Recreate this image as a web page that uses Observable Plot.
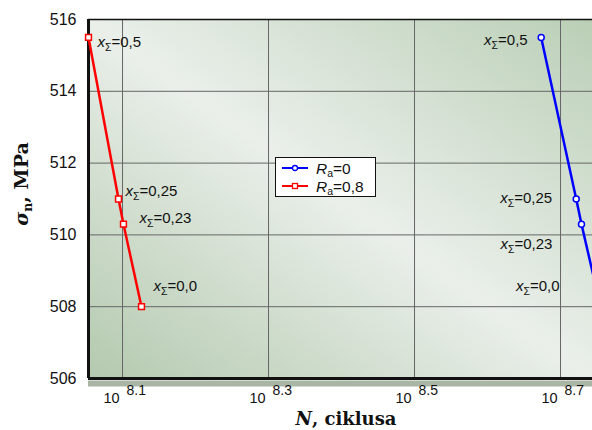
<!DOCTYPE html>
<html><head><meta charset="utf-8">
<script src="https://cdn.jsdelivr.net/npm/d3@7"></script>
<script src="https://cdn.jsdelivr.net/npm/@observablehq/plot@0.6"></script>
<style>body{margin:0;background:#fff}</style>
</head><body><div id="chart"></div>
<script>
// ---- data ----
const xTicks = [8.1, 8.3, 8.5, 8.7];           // log10(N)
const yTicks = [506, 508, 510, 512, 514, 516];  // MPa
const annLabels = ["0,5", "0,25", "0,23", "0,0"];
const logN_Ra0 = [8.6735, 8.7215, 8.7287, 8.7548];
const sigma_Ra0 = [515.5, 511.0, 510.3, 508.0];
const logN_Ra08 = [8.0534, 8.0945, 8.1013, 8.126];
const sigma_Ra08 = [515.5, 511.0, 510.3, 508.0];
const seriesNames = ["0", "0,8"];
const seriesColors = ["#0000ff", "#ff0000"];

const idx = d3.range(4);
const xDomain = [8.0534, 8.7438];
const yDomain = [506, 516];

const redOff = [[9, 5], [7, -8], [16, -6], [12, -21]];
const blueOff = [[-13.5, 3], [-24, -1], [-29, 20.5], [-41, -21]];

const annMarks = [];
idx.forEach(i => {
  annMarks.push(Plot.text([i], {x: j => logN_Ra08[j], y: j => sigma_Ra08[j], text: j => "xΣ=" + annLabels[j],
    dx: redOff[i][0], dy: redOff[i][1], textAnchor: "start", fontSize: 15, fill: "#111"}));
  annMarks.push(Plot.text([i], {x: j => logN_Ra0[j], y: j => sigma_Ra0[j], text: j => "xΣ=" + annLabels[j],
    dx: blueOff[i][0], dy: blueOff[i][1], textAnchor: "end", fontSize: 15, fill: "#111"}));
});

const svg = Plot.plot({
  width: 592, height: 430,
  marginLeft: 88, marginRight: 0, marginTop: 19, marginBottom: 52,
  x: {domain: xDomain, axis: null},
  y: {domain: yDomain, axis: null},
  style: {background: "white", fontFamily: "'Liberation Sans', Arial, sans-serif", overflow: "hidden"},
  marks: [
    Plot.frame({fill: "url(#bgGrad)", stroke: null}),
    Plot.ruleX(xTicks, {stroke: "#666", strokeWidth: 1}),
    Plot.ruleY(yTicks.filter(v => v > 506 && v < 516), {stroke: "#666", strokeWidth: 1}),
    Plot.ruleY([506], {stroke: "#a9b5a5", strokeWidth: 6, dy: 5}),
    Plot.ruleY([506], {stroke: "#111", strokeWidth: 3}),
    Plot.ruleY([516], {stroke: "#111", strokeWidth: 1.5}),
    Plot.ruleX([xDomain[0]], {stroke: "#111", strokeWidth: 3}),
    // y tick labels
    Plot.text(yTicks, {x: xDomain[0], y: d => d, text: d => String(d), textAnchor: "end", dx: -12, fontSize: 16, fill: "#111"}),
    // x tick labels 10^k
    Plot.text(xTicks, {x: d => d, frameAnchor: "bottom", lineAnchor: "middle", text: () => "10", textAnchor: "end", dx: -3, dy: 20, fontSize: 14.5, fill: "#111"}),
    Plot.text(xTicks, {x: d => d, frameAnchor: "bottom", lineAnchor: "middle", text: d => d.toFixed(1), textAnchor: "start", dx: 4, dy: 12.5, fontSize: 14, fill: "#111"}),
    // series
    Plot.line(idx, {x: i => logN_Ra08[i], y: i => sigma_Ra08[i], stroke: seriesColors[1], strokeWidth: 2.5}),
    Plot.line(idx, {x: i => logN_Ra0[i], y: i => sigma_Ra0[i], stroke: seriesColors[0], strokeWidth: 2.5}),
    Plot.dot(idx, {x: i => logN_Ra08[i], y: i => sigma_Ra08[i], symbol: "square", r: 3.3, stroke: seriesColors[1], fill: "white", strokeWidth: 1.5}),
    Plot.dot(idx, {x: i => logN_Ra0[i], y: i => sigma_Ra0[i], symbol: "circle", r: 3, stroke: seriesColors[0], fill: "white", strokeWidth: 1.5}),
    ...annMarks
  ]
});

const s = d3.select(svg);
const defs = s.insert("defs", ":first-child");
const grad = defs.append("linearGradient").attr("id", "bgGrad")
  .attr("x1", 0).attr("y1", 1).attr("x2", 1).attr("y2", 0);
[[0, "#b3c9ae"], [0.5, "#eaefea"], [1, "#bacfb6"]].forEach(([o, c]) =>
  grad.append("stop").attr("offset", o).attr("stop-color", c));

// annotation rich text
s.selectAll("text").each(function () {
  const t = this.textContent;
  if (t.startsWith("xΣ=")) {
    const el = d3.select(this);
    el.text("");
    el.append("tspan").attr("font-style", "italic").text("x");
    el.append("tspan").attr("font-size", "10.5").attr("dy", 4).text("Σ");
    el.append("tspan").attr("dy", -4).text(t.slice(2));
  }
});

// legend
const lg = s.append("g").attr("font-family", "'Liberation Sans', Arial, sans-serif").attr("font-size", 15.5)
  .attr("text-anchor", "start");
lg.append("rect").attr("x", 275.5).attr("y", 157.5).attr("width", 100).attr("height", 39)
  .attr("fill", "white").attr("stroke", "#111").attr("stroke-width", 1);
seriesNames.forEach((name, i) => {
  const yy = 168 + i * 18;
  const c = seriesColors[i];
  lg.append("line").attr("x1", 282).attr("x2", 308).attr("y1", yy).attr("y2", yy).attr("stroke", c).attr("stroke-width", 2);
  if (i === 0) lg.append("circle").attr("cx", 295).attr("cy", yy).attr("r", 2.5).attr("fill", "white").attr("stroke", c).attr("stroke-width", 1.3);
  else lg.append("rect").attr("x", 292.5).attr("y", yy - 2.5).attr("width", 5).attr("height", 5).attr("fill", "white").attr("stroke", c).attr("stroke-width", 1.3);
  const tx = lg.append("text").attr("x", 316).attr("y", yy + 5.5).attr("fill", "#111").attr("text-anchor", "start");
  tx.append("tspan").attr("font-style", "italic").text("R");
  tx.append("tspan").attr("font-size", 10.5).attr("dy", 3).text("a");
  tx.append("tspan").attr("dy", -3).text("=" + name);
});

// axis titles
const yt = s.append("text").attr("transform", "translate(28,184) rotate(-90)")
  .attr("text-anchor", "middle").attr("font-family", "'DejaVu Serif', serif").attr("font-weight", "bold")
  .attr("font-size", 19).attr("fill", "#111");
yt.append("tspan").attr("font-style", "italic").text("σ");
yt.append("tspan").attr("font-size", 12.5).attr("dy", 4).text("n");
yt.append("tspan").attr("dy", -4).text(", MPa");

const xt = s.append("text").attr("x", 346).attr("y", 425)
  .attr("text-anchor", "middle").attr("font-family", "'DejaVu Serif', serif").attr("font-weight", "bold")
  .attr("font-size", 18).attr("fill", "#111");
xt.append("tspan").attr("font-style", "italic").text("N");
xt.append("tspan").text(", ciklusa");

document.getElementById("chart").appendChild(svg);
</script>
</body></html>
